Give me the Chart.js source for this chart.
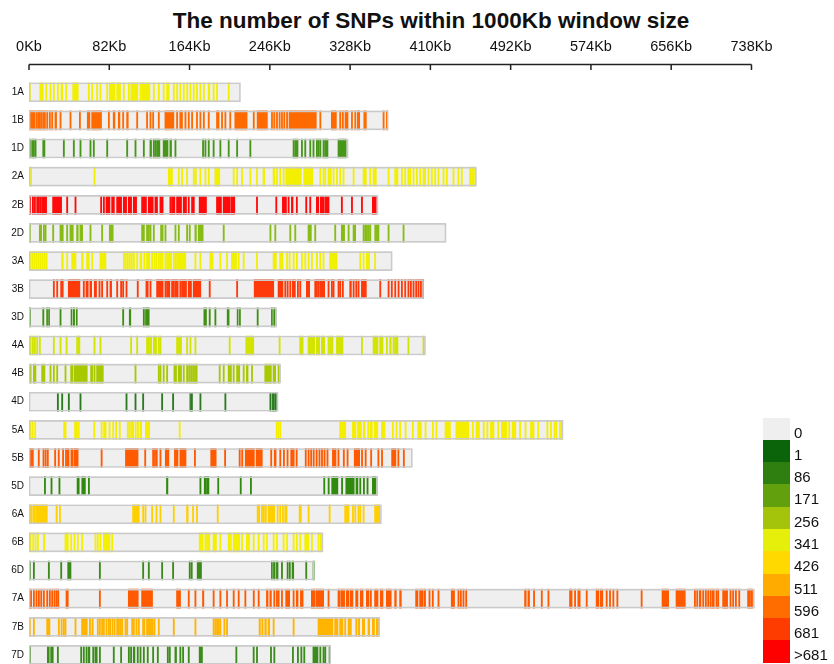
<!DOCTYPE html>
<html>
<head>
<meta charset="utf-8">
<title>SNP density</title>
<script src="https://cdn.jsdelivr.net/npm/chart.js@4.4.1/dist/chart.umd.min.js"></script>
<style>
  html, body { margin: 0; padding: 0; background: #fff; overflow: hidden; }
  body { width: 834px; height: 664px; position: relative; font-family: "Liberation Sans", Arial, sans-serif; color: #111; }
  #title { position: absolute; top: 8px; left: 431px; transform: translateX(-50%); white-space: nowrap;
           font-weight: bold; font-size: 22.5px; line-height: 26px; }
  #chart-box { position: absolute; left: 0; top: 0; width: 834px; height: 680px; }
  #legend { position: absolute; left: 763px; top: 417.5px; }
  .legend-row { display: flex; height: 22.3px; }
  .legend-swatch { width: 27px; height: 22.3px; }
  .legend-label { margin-left: 4px; font-size: 15px; line-height: 22.3px; position: relative; top: 4px; }
</style>
</head>
<body>
<div id="title">The number of SNPs within 1000Kb window size</div>
<div id="chart-box"><canvas id="snp-chart" width="834" height="680"></canvas></div>
<div id="legend"></div>
<script>
// chromosome names and lengths (Kb)
const chromosomes = ["1A", "1B", "1D", "2A", "2B", "2D", "3A", "3B", "3D", "4A", "4B", "4D", "5A", "5B", "5D", "6A", "6B", "6D", "7A", "7B", "7D"];
const chromLengths = [216, 367, 326, 457, 356.5, 426, 371, 403, 253, 405, 257, 254.4, 545.5, 391.6, 356.3, 360, 300.3, 291.2, 741, 358.2, 308.2];

// SNP windows per chromosome: single number = one window, pair = run of windows
const chr1A = [0.3, [11, 14.6], 17, 21.4, 24.8, 28.9, [32.7, 34.4], 37.4, [44.6, 50.3], 60.5, 63.9, 69, 72.4, 79.3, [82, 87.8], [89.5, 93.5], 96.3, 101.4, [104, 111.2], 113.3, [115, 123.5], 126.9, 132, 137, [140.5, 143.2], 147.3, 150.7, 154, 157.5, 161, 164.3, 167.7, 171, 174.5, 178, [183, 184.7], 188, 191.5, 203.4];
const chr1B = [[0, 6.1], 7.1, 8.8, 10.5, 12.2, 14, 15.6, 18, 20.7, 23.1, [26.5, 28.2], 31.6, 41.8, 51.4, [59.5, 62.2], [64, 74.1], 81, [86, 87.8], [91.2, 92.9], 95.6, [99.7, 101.4], 109.9, 120, 123.5, 126.2, 132, [138.8, 148], 150.7, [154, 156.8], 159.2, 162.6, 166, 171, 174.5, 178, 183, [191.5, 194.2], 196.6, 200, 205, [210.2, 222.8], 229, [233, 243.5], 247.6, 250, 252.7, 255.4, 257.8, 260.2, 263, [265.6, 293.5], 297, [308.8, 314], 317.3, 320, [322.8, 325.9], 329.3, 332.7, [335.4, 337.8], [342, 344.6], 361.6, 365];
const chr1D = [0.3, 2.7, 4.4, 6.1, [14, 16.3], 35, 45.2, 52, 62.2, 65.6, 79.3, 99.7, 108.2, 116.7, [123.5, 125.2], 126.9, 128.6, 130.3, [132, 133.7], [137, 142], [143.9, 145.6], 149, 177.2, 179.6, 183, 188, 194.9, 203.4, 212, 225.5, 269.7, 271.4, [273, 274.8], 278.2, 281.6, 286.7, 290, 293.5, 295.2, 297, 300.3, [302, 305.4], [315.6, 324]];
const chr2A = [[1, 2.7], 66.3, [142.2, 146.6], 152.4, 155.8, 160.9, 167.7, [169.4, 171], 174.5, 179.6, 183, [189.8, 194.9], 208.5, 212, 217, 225.5, 232.3, [239, 240.8], [249.3, 251], 252.7, 256, 259.5, [262.2, 278.2], [280.6, 290], 297, 300.3, 302, 305.4, [307, 308.8], 310.5, 314, 317.3, 320.7, 331, [341.2, 344.6], 348, [351.4, 354.8], 366.7, [373.5, 376.9], 380.3, 383.7, 387, 388.8, 392.2, 395.6, 399, 402.4, 404, 407.5, 410.9, 414.3, 417.7, 422.8, 426.2, 433, 438, 441.5, [450, 455]];
const chr2B = [[0, 1.7], 3.4, 5.4, 7.8, 9.5, 11.2, [12.9, 18], [24.1, 33.3], 38.4, 46.9, 73.1, 75.9, 78.6, [79.9, 82.7], 84.4, 86, [89.5, 94.6], [96.3, 99.7], [101.4, 104.8], [106.5, 109.9], [115, 120], [121.8, 126.9], [128.6, 131.3], [133.7, 137], 143.9, [145.6, 149], 150.7, [152.4, 155.8], [157.5, 160.9], 162.6, 166, 167.7, [173.8, 181.3], [191.5, 196.6], [198.3, 205.1], [206, 210.2], 232.3, 252, [258.8, 263], 264.6, [268, 269.7], 273, 282.6, 286.7, [293.5, 296], [297.6, 301], [302, 306.5], 319, 329.3, 339.5, [350.7, 354.8]];
const chr2D = [0.3, [10.5, 12.9], 14.6, 16.3, 24.1, [31.6, 35], 38.4, [41.8, 45.2], [48.6, 50.3], [52, 54.8], 62.2, 74.1, [82, 86], 115, 116.7, 120, 121.8, 123.5, 126.9, [134.4, 137], 138.8, 149, 152.4, 160.9, 163.6, [169.4, 171], [172.8, 177.9], 198.3, 246, 251, 266.3, 271.4, [285, 288.4], 291.8, 312.2, [319, 322.4], 325.9, [331, 333.7], 341.2, 342.9, 344.6, 346.3, 348, [353.1, 357.5], 366.7, 382];
const chr3A = [1, 3, 5.1, 7.1, 9.2, 11.2, 13.3, 15.3, 17.3, [33.3, 35], 38.4, 43.5, [45.2, 48], [53.7, 55.4], 58.8, 60.5, 64, [72.4, 78.6], 96.3, 98.3, 100.3, 102.4, 104.4, 106.5, 109.9, [113.3, 115.3], 117.3, 120, [121.8, 123.5], 125.2, 127.6, 129.6, 132, 133.7, [135.4, 137], 138.8, 140.5, [142.2, 145.6], 147.3, 149, 150.7, [152.4, 160.2], 169.4, 174.5, [184.7, 188], 194.9, 201.7, [206.8, 212], 213.6, 218.7, 232.3, [249.3, 252.7], [256, 259.5], 263, 265.6, 269.7, 273, 278.2, 281.6, 285, 288.4, 293.5, 297, 300.3, [307, 314.6], 337.8, 341.2, [344.6, 348], 353];
const chr3B = [24.8, 28.2, [32.3, 35], [40.1, 52], 55.4, [58.2, 60.5], [62.2, 64], [66.7, 69], 71.4, 74.1, 79.3, [82.7, 84.4], 89.5, 93.5, 95.6, 99, 110.5, [119.4, 121.8], 123.5, [130.3, 137], 138.8, 140.5, [142.2, 143.9], 145.6, 147.3, [149, 152.4], 154, [155.8, 160.9], [162.6, 166], [167.7, 175.5], 184, 212, [230, 250], [254.4, 259.5], 261.2, 263.6, 266.3, [269, 272.1], 274.1, 276.5, [283.3, 286.7], 291.8, 293.5, 295.2, 297, [298.6, 302], 305.4, 308.8, 310.5, 315.6, 317.3, 320, [327.6, 329.3], 331, 333.7, 336, [339.5, 344.6], 358.2, 366.7, 370, 373.5, 376.9, 380.3, 383.7, 387, 389.5, 392.2, 394.9, 397.3, 399.7, 401.7];
const chr3D = [0.3, 14, [18, 19], [20, 21], 31.6, [42.9, 43.9], [45.2, 46.6], [48.3, 49.3], 95.6, [102.4, 104], 116.7, [119, 122.8], [178.6, 181.3], 184, 189.8, [202.4, 204.4], [212.6, 213.6], [214.9, 216], 233, [247.6, 248.6], [249.9, 251.4]];
const chr4A = [1, 3.4, 5.4, 7.8, 10.5, 24.8, 31.6, 37.8, [48.6, 52], 66.3, 72.4, 103.7, 109.9, 120, 121.8, [123.5, 125.2], [126.9, 130.3], 132, 133.7, [150.7, 155.8], 160.9, 164.3, 169.4, 204.4, [221.4, 229.6], 255.4, [276.5, 280], [285, 291.8], [293.5, 297], [298.6, 302], 305.4, [307, 310.5], [314, 320.7], 339.5, [351.4, 356.5], [358.2, 361.6], 365, [368.4, 370], 371.8, [373.5, 376.9], 387, 402.4];
const chr4B = [1, [4.4, 7.1], [12.9, 16.3], 21.4, 24.8, 28.2, 36.7, [42.5, 44.6], [45.9, 59.5], [62.9, 65], 66.3, [69, 75.9], 108.2, 132, 133.7, 137, 140.5, [148, 150.7], [152.4, 155.8], 157.5, 160.9, 163, 165, 167, [169, 171.8], 194.2, 198.3, [203.4, 206.8], 208.5, [212, 215.3], 218.7, [222, 223.8], 227.2, [240.8, 247.6], [249.3, 252], 254.4];
const chr4D = [28.9, 33.3, 40.1, 52, 99, 108.2, 116, 135.4, 146.6, [164.3, 165], [165.6, 167], 174.5, 200, [246, 247.3], [248.6, 250.7], [251.4, 252.7]];
const chr5A = [0.8, 3.1, 5.7, [35.3, 37.9], 46.5, 48.3, 50.2, 66.1, 73.6, [76.2, 78.8], 81.7, 85.4, 88.4, 92.1, 100.3, 102.1, [104, 107], 108.4, 110.7, [113.3, 115.1], [118.8, 123.3], 153.3, 252.4, 254.2, 256.1, [317.3, 323.6], [330.3, 334], [335.5, 339.6], [341.4, 343.3], 345.9, [348.2, 350.7], [352.6, 356.3], [360, 363.7], 371.1, 374.8, 378.5, 384.1, 391.5, [397.1, 400.8], 404.5, 412, 415.6, [424.9, 430.5], [436, 449.1], 452.8, [456.5, 460.2], 463.9, 467.6, [471.3, 475], 478.8, [482.5, 488], 489.9, [493.6, 497.3], 501, 506.6, [512.2, 515.9], 519.6, 528.9, 532.6, 536.3, 538.1, 541.8, 543.7];
const chr5B = [[0.8, 4.5], 9.4, 14.2, 16.4, 18.6, 26.1, 29.8, 34.2, 37.2, [39, 40.9], [42.8, 45], [46, 50.2], 73.6, [98.5, 111.4], 118.1, 126.2, 128.1, 129.9, 133.7, [139.2, 142.9], [148.5, 152.2], [154.1, 160.4], 168.9, [185.6, 191.2], 199.7, 214.6, 217.2, [220.9, 230.2], [232, 238.3], 246.8, [250.5, 252.4], 256.1, 259.8, 263.5, [267.3, 270.9], 272.8, 282.1, 285, 287.6, 290.2, 293.2, 296.1, 298.7, 301.3, 304.3, [309.9, 313.6], 315.5, 321, 324.8, [332.2, 337.8], 339.6, 343.3, 348.9, 356.3, 360, [370.4, 374.8], 376.7, 382.3];
const chr5D = [15.7, 22.4, 30.5, [49.1, 51.3], [53.9, 57.6], 60.6, [140.4, 141.9], 174.5, [179, 180.5], [181.3, 183.8], 192.7, 215.7, 226.1, 301, 305.5, [309.2, 315.5], 319.2, [323.6, 332.2], [334, 336], 337.8, 341.5, 345.2, [350.7, 354.5]];
const chr6A = [[0.3, 3.4], [4.4, 6.5], [7.1, 18.7], [27.6, 28.9], 31, [105.8, 112.6], 116, 118.4, 125.2, 129.6, 133.7, 147.3, [160.9, 162.6], 167, 171, 192.2, [233, 235.7], 237.4, 239.1, [240.8, 242.5], [244.2, 251], 253.4, 256, 258.8, [261.2, 263.6], [275.9, 278.2], 285, 306.5, [322.4, 326.9], 330.3, 332.7, 336, 337.8, 341.2, [353, 358.2]];
const chr6B = [1, 3.7, 6.1, 8.5, [14.6, 16.3], [36.7, 40.1], 42.5, 45.9, 49.3, 53.7, 67.3, 69.7, 72.4, [75.9, 82.7], 84.4, [173.8, 177.9], 179.6, 181.3, [183, 184.7], [188, 191.5], 194.9, [203.4, 206.8], [208.5, 215.3], 217, [222, 225.5], 228.9, 234, 239.1, 242.5, 249.3, 252.7, 259.5, 263, 269.7, 273, 276.5, [281.6, 286], 288.4, 295.2, 297.6];
const chr6D = [0.3, 4.4, 19.7, 32.3, [39.5, 42.9], 71.8, 116, 121.8, 135.4, 146.6, 163.6, 165.6, [171.8, 176.2], [247.6, 248.6], [249.7, 251.4], [252.7, 254.4], 257.8, [263.6, 264.6], [265.6, 267], [268.7, 270.4], 282.6, 290.1];
const chr7A = [[0.3, 2.7], 4.4, 7.1, 9.5, 11.9, 14.6, 18, 20.7, 23.1, 25.5, 27.6, 29.3, [37.8, 40.1], 71.8, [101.4, 111.6], [115, 126.2], [150.7, 154.8], 162.6, 169.4, [177.2, 178.6], 188, 194.9, 201.7, 208.5, 213.6, 220.4, 229, 234, [242.5, 244.2], [246, 247.6], 250, 252.7, 254.4, 257.8, [262.2, 266.3], 269.7, [273, 274.8], [277.2, 280], [288.4, 291.8], [292.9, 301], 305.4, [315.6, 318], [319, 322.4], [324.1, 326.9], [328.2, 330.9], [333.7, 336], [338.4, 341.2], [344.6, 347.3], 348.6, [353, 356.5], [358.8, 361.6], [365, 370], [373.5, 375.2], [378.6, 380.3], [394.9, 397.3], [399, 402.4], [403.4, 405.1], 408.5, 411.9, 417.7, [431.3, 434.7], 438.1, 440.5, 443.2, 446, [506.2, 507.9], [509.6, 511.3], 515.3, 523.2, 530, [552.1, 554.8], 557.2, [560.6, 563], 569.1, [579.3, 582], [583.4, 586.1], 589.5, 592.9, 596.3, 600.4, 625.2, [646.6, 653.4], [660.9, 670.4], 679.6, 682, [684.7, 686.4], 688.1, 690.8, 693.2, 695.6, [697.6, 700], 701.7, 703.4, [708.5, 713.6], 716, 718.7, 721.5, 724.9, 734, 735.7, [737.4, 739.1]];
const chr7B = [0.3, 4.4, [18, 21.4], 29.9, 32.7, 35, 36.7, 46.9, [53.7, 59.5], [61.6, 62.9], [64.3, 65.6], 69.7, 71.8, 74.1, 75.9, 78.6, 81, [82.7, 83.7], [85, 86], [87.1, 88], 89.5, 91.2, 92.9, 94.6, 98, 99.7, 104.8, 106.5, 109.2, 111.6, [116, 118.4], [120, 126.9], 127.6, 132, 147.3, 169.4, 188, 189.8, 191.5, 193.2, 194.9, 199, 201.7, [235, 236.4], [237.8, 239.1], [240.8, 242.5], [244.2, 245.9], 249.3, 269.7, [295.2, 310.5], [312.2, 315.6], [317.3, 320.7], 322.4, [325.9, 329.3], [333.7, 335], [336.3, 337.8], [340.5, 342.9], [346.3, 348], [350.7, 353], [354.8, 357.5]];
const chr7D = [0.3, [18.7, 20.7], [22.1, 24.8], 28.9, 52.7, 55.4, 58.2, [60.5, 62.2], 65, [67.3, 69.7], 71.8, 86, 93.5, 101.4, 103.7, [106.5, 108.2], 110.5, 113.3, 116.7, 120.7, 126.2, 131, 141.2, 143.2, [149, 150.7], 154, 156.8, 162.6, [173.8, 177.2], 211.2, 228.9, 232.3, 246.6, 250, 269, 274.1, 277.6, 280.6, [290, 295.2], 297, 300.3, 302, 306.5];

const windows = [chr1A, chr1B, chr1D, chr2A, chr2B, chr2D, chr3A, chr3B, chr3D, chr4A, chr4B, chr4D, chr5A, chr5B, chr5D, chr6A, chr6B, chr6D, chr7A, chr7B, chr7D];

// x axis tick values (Kb)
const tickValues = [0, 82, 164, 246, 328, 410, 492, 574, 656, 738];

// legend bins
const legendLabels = ["0", "1", "86", "171", "256", "341", "426", "511", "596", "681", ">681"];
const legendColors = ["#efefef", "#0b640a", "#2f7f10", "#62a00e", "#a3c40a", "#e6ef0a", "#ffd900", "#ffab00", "#ff6c00", "#ff3c00", "#ff0000"];

const chromColors = ["#f2f000", "#ff6a00", "#46961a", "#f2f000", "#ff0a0a", "#86bc14", "#f0f000", "#ff3a0a", "#3f8f12", "#d2e400", "#a8c800", "#2a7a1e", "#f5ee00", "#ff5a00", "#2f8a0e", "#ffd000", "#f5f000", "#3a8a1a", "#ff5a00", "#ffb400", "#3c8c1c"];

function toRange(item) {
  return Array.isArray(item) ? item : [item, item + 1.2];
}

function renderLegend() {
  document.querySelector("#legend").innerHTML = legendLabels
    .map(
      (label, index) => `
      <div class="legend-row">
        <div class="legend-swatch" style="background:${legendColors[index]}"></div>
        <div class="legend-label">${label.replace(">", "&gt;")}</div>
      </div>`,
    )
    .join("");
}

// axis line sits above the chart area, tick marks hang down from it
const topAxisLine = {
  id: "topAxisLine",
  afterDraw(chart) {
    const scale = chart.scales.x;
    const ctx = chart.ctx;
    const y = scale.bottom - 13.7;
    ctx.save();
    ctx.strokeStyle = "#222";
    ctx.lineWidth = 1.5;
    ctx.beginPath();
    ctx.moveTo(scale.getPixelForValue(tickValues[0]), y);
    ctx.lineTo(scale.getPixelForValue(tickValues[tickValues.length - 1]), y);
    tickValues.forEach((value) => {
      const px = scale.getPixelForValue(value);
      ctx.moveTo(px, y);
      ctx.lineTo(px, y + 5.5);
    });
    ctx.stroke();
    ctx.restore();
  },
};

const stripeSets = chromosomes.map((name, index) => ({
  label: name,
  data: windows[index].map((item) => ({ y: name, x: toRange(item) })),
  backgroundColor: chromColors[index],
  order: 2,
}));

new Chart(document.querySelector("#snp-chart"), {
  type: "bar",
  data: {
    labels: chromosomes,
    datasets: [
      {
        label: "body",
        data: chromLengths.map((length) => [0, length]),
        backgroundColor: "#efefef",
        order: 3,
      },
      ...stripeSets,
      {
        label: "outline",
        data: chromLengths.map((length) => [0, length]),
        backgroundColor: "rgba(0,0,0,0)",
        borderColor: "#cacaca",
        borderWidth: 1,
        borderSkipped: false,
        order: 1,
      },
    ],
  },
  options: {
    indexAxis: "y",
    responsive: false,
    animation: false,
    events: [],
    grouped: false,
    barThickness: 19,
    layout: { padding: { left: 0, right: 78.6, top: 0, bottom: 0 } },
    plugins: {
      legend: { display: false },
      tooltip: { enabled: false },
      title: { display: false },
    },
    scales: {
      x: {
        type: "linear",
        position: "top",
        min: 0,
        max: 742,
        grid: { display: false, drawTicks: true, tickLength: 20 },
        border: { display: false },
        afterFit: (scale) => {
          scale.height = 78.2;
        },
        afterBuildTicks: (scale) => {
          scale.ticks = tickValues.map((value) => ({ value }));
        },
        ticks: {
          autoSkip: false,
          maxRotation: 0,
          padding: 2.8,
          color: "#111",
          font: { family: "'Liberation Sans', Arial, sans-serif", size: 14.5 },
          callback: (value) => `${value}Kb`,
        },
      },
      y: {
        type: "category",
        offset: true,
        grid: { display: false, drawTicks: false },
        border: { display: false },
        afterFit: (scale) => {
          scale.width = 29;
        },
        ticks: {
          padding: 5,
          color: "#111",
          font: { family: "'Liberation Sans', Arial, sans-serif", size: 10 },
        },
      },
    },
  },
  plugins: [topAxisLine],
});

renderLegend();
</script>
</body>
</html>
